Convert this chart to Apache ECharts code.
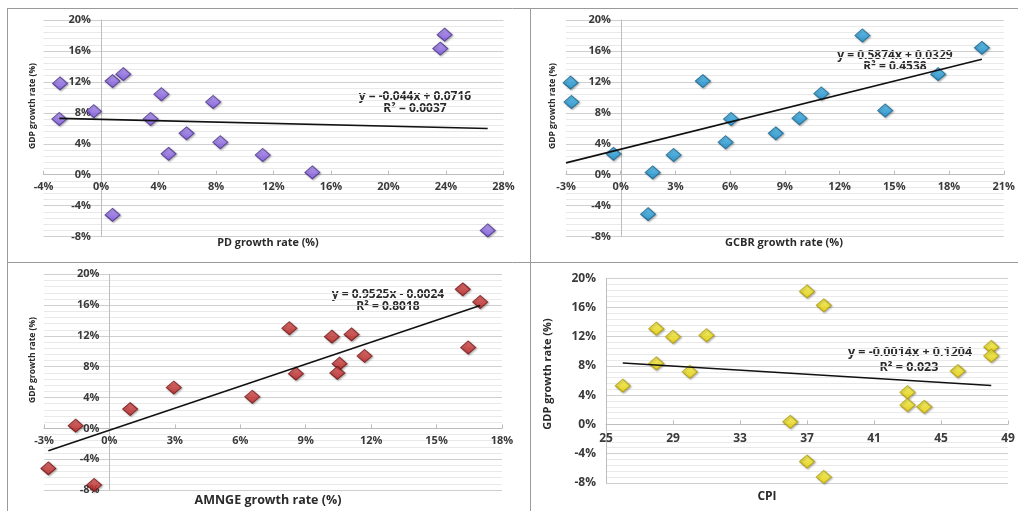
<!DOCTYPE html>
<html>
<head>
<meta charset="utf-8">
<title>GDP growth rate vs. explanatory variables</title>
<script src="https://cdn.jsdelivr.net/npm/echarts@6/dist/echarts.min.js"></script>
<style>
  html, body { margin: 0; padding: 0; background: #fff; }
  #chart { width: 1018px; height: 511px; }
</style>
</head>
<body>
<div id="chart"></div>
<script>
// ---- Data (growth rates stored as fractions, CPI as index values) ----
const pdX   = [-0.0285, -0.029, -0.005, 0.008, 0.0155, 0.008, 0.0345, 0.042, 0.047, 0.0595, 0.078, 0.083, 0.1125, 0.147, 0.239, 0.236, 0.269];
const pdY   = [0.118, 0.072, 0.082, 0.121, 0.130, -0.052, 0.072, 0.104, 0.027, 0.0535, 0.094, 0.042, 0.0255, 0.003, 0.181, 0.163, -0.072];

const gcbrX = [-0.0275, -0.027, -0.004, 0.0175, 0.015, 0.029, 0.045, 0.0605, 0.0575, 0.085, 0.098, 0.110, 0.1325, 0.145, 0.174, 0.198];
const gcbrY = [0.119, 0.094, 0.027, 0.003, -0.051, 0.0255, 0.121, 0.072, 0.042, 0.0535, 0.073, 0.105, 0.180, 0.083, 0.130, 0.164];

const amngeX = [-0.0155, -0.028, -0.007, 0.0095, 0.0295, 0.0655, 0.0825, 0.0855, 0.102, 0.111, 0.1055, 0.1045, 0.117, 0.162, 0.170, 0.1645];
const amngeY = [0.0035, -0.052, -0.0735, 0.025, 0.053, 0.041, 0.130, 0.071, 0.119, 0.122, 0.084, 0.072, 0.094, 0.1805, 0.164, 0.105];

const cpiX = [26, 28, 28, 29, 30, 31, 36, 37, 38, 37, 38, 43, 43, 44, 46, 48, 48];
const cpiY = [0.053, 0.131, 0.0835, 0.120, 0.072, 0.122, 0.0035, 0.182, 0.163, -0.051, -0.072, 0.044, 0.0265, 0.024, 0.073, 0.106, 0.094];

// Linear trendlines: slope, intercept and the x span they cover
const pdTrend    = { a: -0.044,  b: 0.0716,  from: -0.029, to: 0.269, r2: '0.0037' };
const gcbrTrend  = { a: 0.5874,  b: 0.0329,  from: -0.030, to: 0.198, r2: '0.4538' };
const amngeTrend = { a: 0.9525,  b: -0.0024, from: -0.028, to: 0.170, r2: '0.8018' };
const cpiTrend   = { a: -0.0014, b: 0.1204,  from: 26,     to: 48,    r2: '0.023' };

// Axis ranges / ticks
const gdpAxis   = { min: -0.08, max: 0.20, interval: 0.04 };
const pdAxis    = { min: -0.04, max: 0.28, interval: 0.04 };
const gcbrAxis  = { min: -0.03, max: 0.21, interval: 0.03 };
const amngeAxis = { min: -0.03, max: 0.18, interval: 0.03 };
const cpiAxis   = { min: 25, max: 49 };
const cpiTicks  = [25, 29, 33, 37, 41, 45, 49];

// ---- Layout of the four plot areas ----
const grids = [
  { left: 43.5, top: 20,    width: 460, height: 216.6 },
  { left: 566,  top: 20,    width: 440, height: 216.6 },
  { left: 44,   top: 274.3, width: 458, height: 215.7 },
  { left: 606,  top: 278.3, width: 402, height: 204.5 }
];

// ---- Helpers ----
const FONT = '"Open Sans", Lato, sans-serif';
const pct = v => Math.round(v * 100) + '%';
const zip = (xs, ys) => xs.map((x, i) => [x, ys[i]]);
const trendPoints = t => [[t.from, t.a * t.from + t.b], [t.to, t.a * t.to + t.b]];
const fmtEq = t => {
  const sign = t.b < 0 ? ' - ' : ' + ';
  return 'y = ' + t.a + 'x' + sign + Math.abs(t.b).toFixed(4);
};
// Pixel distance from the low end of an axis to its zero value,
// used to make each axis cross the other one at 0.
const zeroShift = (len, r) => (r.min >= 0 || r.max <= 0) ? 0 : len * (0 - r.min) / (r.max - r.min);

const labelStyle = (size) => ({
  fontFamily: FONT, fontWeight: 'bold', fontSize: size, color: '#3a3a3a'
});

function gdpYAxis(gridIndex, xRange, size) {
  return {
    type: 'value', gridIndex, position: 'left',
    offset: -zeroShift(grids[gridIndex].width, xRange),
    min: gdpAxis.min, max: gdpAxis.max, interval: gdpAxis.interval,
    axisLine: { show: true, onZero: false, lineStyle: { color: '#bdbdbd', width: 1 } },
    axisTick: { show: false },
    axisLabel: Object.assign({ formatter: pct, margin: 10 }, labelStyle(size)),
    splitLine: { show: true, lineStyle: { color: '#cfcfcf', width: 1 } },
    minorTick: { show: false, splitNumber: 5 },
    minorSplitLine: { show: true, lineStyle: { color: '#e9e9e9', width: 1 } }
  };
}

function xValueAxis(gridIndex, range, size, extra) {
  return Object.assign({
    type: 'value', gridIndex, position: 'bottom',
    offset: -zeroShift(grids[gridIndex].height, gdpAxis),
    min: range.min, max: range.max, interval: range.interval,
    axisLine: { show: true, onZero: false, lineStyle: { color: '#bdbdbd', width: 1 } },
    axisTick: { show: true, length: 4, inside: true, lineStyle: { color: '#bdbdbd' } },
    axisLabel: Object.assign({ formatter: pct, margin: 7 }, labelStyle(size)),
    splitLine: { show: false }
  }, extra || {});
}

function diamondFill(top, bottom) {
  return new echarts.graphic.LinearGradient(0, 0, 0, 1, [
    { offset: 0, color: top }, { offset: 1, color: bottom }
  ]);
}

function scatter(idx, data, top, bottom, border) {
  return {
    type: 'scatter', xAxisIndex: idx, yAxisIndex: idx, data,
    symbol: 'diamond', symbolSize: [15, 13],
    itemStyle: {
      color: diamondFill(top, bottom), borderColor: border, borderWidth: 1,
      shadowColor: 'rgba(0,0,0,0.35)', shadowBlur: 2, shadowOffsetX: 1, shadowOffsetY: 1
    },
    z: 3
  };
}

function trend(idx, t) {
  return {
    type: 'line', xAxisIndex: idx, yAxisIndex: idx, data: trendPoints(t),
    symbol: 'none', silent: true,
    lineStyle: { color: '#111', width: 1.6 },
    z: 4
  };
}

function text(str, x, y, size, opts) {
  return Object.assign({
    type: 'text', x, y,
    style: {
      text: str, fontFamily: FONT, fontWeight: 'bold', fontSize: size,
      fill: '#2a2a2a', align: 'center', verticalAlign: 'middle'
    }
  }, opts || {});
}

function rule(x1, y1, x2, y2) {
  return {
    type: 'line', shape: { x1, y1, x2, y2 },
    style: { stroke: '#9a9a9a', lineWidth: 1 }
  };
}

const chart = echarts.init(document.getElementById('chart'));

chart.setOption({
  backgroundColor: '#ffffff',
  animation: false,
  grid: grids.map(g => Object.assign({ containLabel: false }, g)),
  xAxis: [
    xValueAxis(0, pdAxis, 11),
    xValueAxis(1, gcbrAxis, 11),
    xValueAxis(2, amngeAxis, 11),
    xValueAxis(3, cpiAxis, 12, {
      interval: null,
      axisTick: { show: true, length: 4, inside: true, customValues: cpiTicks, lineStyle: { color: '#bdbdbd' } },
      axisLabel: Object.assign({ customValues: cpiTicks, margin: 8 }, labelStyle(12))
    })
  ],
  yAxis: [
    gdpYAxis(0, pdAxis, 11),
    gdpYAxis(1, gcbrAxis, 11),
    gdpYAxis(2, amngeAxis, 11),
    gdpYAxis(3, cpiAxis, 12)
  ],
  series: [
    scatter(0, zip(pdX, pdY), '#b79bff', '#7b4fe0', '#4a2f8a'),
    trend(0, pdTrend),
    scatter(1, zip(gcbrX, gcbrY), '#4cc3f5', '#168ccd', '#15628f'),
    trend(1, gcbrTrend),
    scatter(2, zip(amngeX, amngeY), '#e85a5a', '#b51d1d', '#741010'),
    trend(2, amngeTrend),
    scatter(3, zip(cpiX, cpiY), '#ffff55', '#f2d600', '#b39b00'),
    trend(3, cpiTrend)
  ],
  graphic: [
    // panel frames
    rule(7, 8.5, 1018, 8.5),
    rule(7.5, 8, 7.5, 511),
    rule(530.5, 8, 530.5, 511),
    rule(7, 262.5, 1018, 262.5),

    // axis titles
    text('PD growth rate (%)', 268, 243, 10.8),
    text('GCBR growth rate (%)', 784, 243, 11),
    text('AMNGE growth rate (%)', 268, 500, 12.5),
    text('CPI', 767, 497, 12),
    text('GDP growth rate (%)', 33, 106, 8.5, { rotation: Math.PI / 2 }),
    text('GDP growth rate (%)', 553, 106, 8.5, { rotation: Math.PI / 2 }),
    text('GDP growth rate (%)', 33, 360, 8.5, { rotation: Math.PI / 2 }),
    text('GDP growth rate (%)', 548, 374, 11, { rotation: Math.PI / 2 }),

    // trendline equations
    text(fmtEq(pdTrend), 415, 96.7, 12),
    text('R\u00b2 = ' + pdTrend.r2, 415, 108.3, 12),
    text(fmtEq(gcbrTrend), 895, 56, 12),
    text('R\u00b2 = ' + gcbrTrend.r2, 895, 67, 12),
    text(fmtEq(amngeTrend), 388, 294.5, 12),
    text('R\u00b2 = ' + amngeTrend.r2, 388, 306.5, 12),
    text(fmtEq(cpiTrend), 910, 352.7, 12.5),
    text('R\u00b2 = ' + cpiTrend.r2, 909, 367.7, 12.5)
  ]
});
</script>
</body>
</html>
